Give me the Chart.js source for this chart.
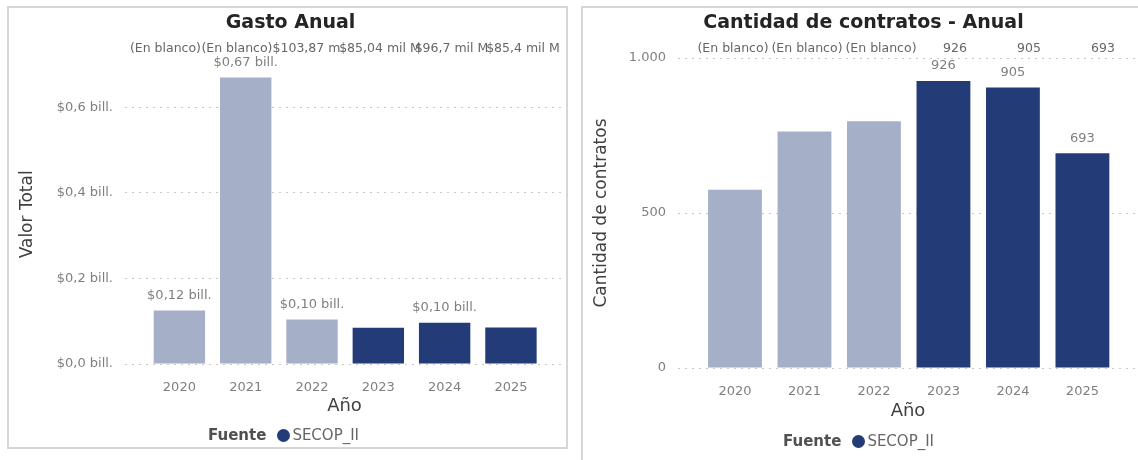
<!DOCTYPE html>
<html lang="es">
<head>
<meta charset="utf-8">
<title>Gasto Anual y Cantidad de contratos</title>
<script src="https://cdn.jsdelivr.net/npm/chart.js@4.4.1/dist/chart.umd.min.js"></script>
<style>
  html, body { margin: 0; padding: 0; background: #fff; }
  body { width: 1138px; height: 460px; position: relative; overflow: hidden; font-family: 'DejaVu Sans', sans-serif; }
  .panel { position: absolute; box-sizing: border-box; border: 2px solid #d6d6d6; }
  #panel-gasto { left: 7px; top: 6px; width: 561px; height: 443px; }
  #panel-contratos { left: 581px; top: 6px; width: 600px; height: 500px; }
  canvas { position: absolute; top: 0; }
  #gasto-chart { left: 0; }
  #contratos-chart { left: 575px; }
  .legend { position: absolute; display: flex; align-items: center; height: 20px; font-size: 15px; color: #666; white-space: nowrap; }
  .legend b { color: #505050; margin-right: 11px; }
  .legend .dot { width: 13px; height: 13px; border-radius: 50%; margin-right: 2px; }
  #legend-gasto { left: 208px; top: 425px; }
  #legend-contratos { left: 783px; top: 431px; }
</style>
</head>
<body>
<div class="panel" id="panel-gasto"></div>
<div class="panel" id="panel-contratos"></div>
<canvas id="gasto-chart" width="566" height="460"></canvas>
<canvas id="contratos-chart" width="563" height="460"></canvas>
<div class="legend" id="legend-gasto"><b>Fuente</b><span class="dot"></span>SECOP_II</div>
<div class="legend" id="legend-contratos"><b>Fuente</b><span class="dot"></span>SECOP_II</div>

<script>
// Datos por año
const years = [2020, 2021, 2022, 2023, 2024, 2025];
const fuente = ['(En blanco)', '(En blanco)', '(En blanco)', 'SECOP_II', 'SECOP_II', 'SECOP_II'];

// Gasto anual (billones de pesos)
const gastoBill = [0.125, 0.67, 0.10387, 0.08504, 0.0967, 0.0854];
const gastoLabels = ['$0,12 bill.', '$0,67 bill.', '$0,10 bill.', null, '$0,10 bill.', null];
const gastoTotals = ['(En blanco)', '(En blanco)', '$103,87 m.', '$85,04 mil M', '$96,7 mil M', '$85,4 mil M'];
const gastoTicks = [0, 0.2, 0.4, 0.6];
const gastoTickLabels = ['$0,0 bill.', '$0,2 bill.', '$0,4 bill.', '$0,6 bill.'];

// Cantidad de contratos
const contratos = [575, 763, 796, 926, 905, 693];
const contratosLabels = [null, null, null, '926', '905', '693'];
const contratosTotals = ['(En blanco)', '(En blanco)', '(En blanco)', '926', '905', '693'];
const contratosTicks = [0, 500, 1000];
const contratosTickLabels = ['0', '500', '1.000'];

// Colores
const COLOR_BLANK = '#A6AFC8';
const COLOR_SECOP = '#233B76';
const FONT = "'DejaVu Sans', sans-serif";

Chart.defaults.font.family = FONT;

function barColor(f) {
    return f === 'SECOP_II' ? COLOR_SECOP : COLOR_BLANK;
}

document.querySelectorAll('.legend .dot').forEach(el => {
    el.style.background = COLOR_SECOP;
});

// Etiquetas de datos y fila de totales
const labelsPlugin = {
    id: 'barLabels',
    afterDatasetsDraw(chart, args, opts) {
        const ctx = chart.ctx;
        const meta = chart.getDatasetMeta(0);
        ctx.save();
        ctx.textAlign = 'center';
        ctx.textBaseline = 'middle';

        ctx.font = '13px ' + FONT;
        ctx.fillStyle = '#7f7f7f';
        meta.data.forEach((bar, i) => {
            if (opts.labels[i]) {
                ctx.fillText(opts.labels[i], bar.x, bar.y - 15);
            }
        });

        const totalsScale = chart.scales.xTotals;
        ctx.font = '12.5px ' + FONT;
        ctx.fillStyle = '#666';
        opts.totals.forEach((t, i) => {
            ctx.fillText(t, totalsScale.getPixelForValue(years[i]), opts.totalsY);
        });
        ctx.restore();
    }
};

function buildChart(canvasId, cfg) {
    const ctx = document.getElementById(canvasId).getContext('2d');
    return new Chart(ctx, {
        type: 'bar',
        data: {
            labels: years,
            datasets: [{
                label: 'Fuente',
                data: cfg.values,
                backgroundColor: fuente.map(barColor),
                borderWidth: 0,
                categoryPercentage: 1,
                barPercentage: 0.775
            }]
        },
        plugins: [labelsPlugin],
        options: {
            responsive: false,
            animation: false,
            layout: { padding: cfg.padding },
            scales: {
                x: {
                    type: 'linear',
                    min: 2019.18,
                    max: 2025.8,
                    offset: false,
                    grid: { display: false, offset: false },
                    border: { display: false },
                    afterBuildTicks: axis => { axis.ticks = years.map(v => ({ value: v })); },
                    afterFit: axis => { axis.height = cfg.xHeight; },
                    ticks: {
                        autoSkip: false,
                        maxRotation: 0,
                        padding: 8,
                        color: '#7f7f7f',
                        font: { size: 13 },
                        callback: v => String(v)
                    },
                    title: {
                        display: true,
                        text: 'Año',
                        color: '#404040',
                        font: { size: 18 },
                        padding: { top: 0, bottom: 0 }
                    }
                },
                xTotals: {
                    type: 'linear',
                    axis: 'x',
                    position: 'top',
                    display: false,
                    offset: false,
                    grid: { offset: false },
                    min: cfg.totalsMin,
                    max: cfg.totalsMax
                },
                y: {
                    min: 0,
                    max: cfg.yMax,
                    grid: { color: '#c8c8c8', drawTicks: false },
                    border: { display: false, dash: [2, 5] },
                    afterBuildTicks: axis => { axis.ticks = cfg.ticks.map(v => ({ value: v })); },
                    afterFit: axis => { axis.width = cfg.yWidth; },
                    ticks: {
                        padding: 12,
                        color: '#7f7f7f',
                        font: { size: 13 },
                        callback: (v, i) => cfg.tickLabels[i]
                    },
                    title: {
                        display: true,
                        text: cfg.yTitle,
                        color: '#404040',
                        font: { size: 17 },
                        padding: { top: cfg.yTitlePad, bottom: 0 }
                    }
                }
            },
            plugins: {
                legend: { display: false },
                tooltip: { enabled: false },
                title: {
                    display: true,
                    text: cfg.title,
                    color: '#252423',
                    font: { size: 19, weight: 'bold' },
                    padding: { top: 11.6, bottom: cfg.titlePadBottom }
                },
                barLabels: {
                    labels: cfg.labels,
                    totals: cfg.totals,
                    totalsY: 49
                }
            }
        }
    });
}

buildChart('gasto-chart', {
    title: 'Gasto Anual',
    yTitle: 'Valor Total',
    values: gastoBill,
    labels: gastoLabels,
    totals: gastoTotals,
    ticks: gastoTicks,
    tickLabels: gastoTickLabels,
    yMax: 0.7,
    padding: { left: 17, right: 2, top: 0, bottom: 43 },
    yWidth: 108,
    xHeight: 53,
    yTitlePad: 0,
    titlePadBottom: 30.35,
    totalsMin: 2019.434,
    totalsMax: 2025.574
});

buildChart('contratos-chart', {
    title: 'Cantidad de contratos - Anual',
    yTitle: 'Cantidad de contratos',
    values: contratos,
    labels: contratosLabels,
    totals: contratosTotals,
    ticks: contratosTicks,
    tickLabels: contratosTickLabels,
    yMax: 1000,
    padding: { left: 14, right: 0, top: 0, bottom: 38 },
    yWidth: 89,
    xHeight: 54,
    yTitlePad: 2,
    titlePadBottom: 23.6,
    totalsMin: 2019.257,
    totalsMax: 2025.473
});
</script>
</body>
</html>
